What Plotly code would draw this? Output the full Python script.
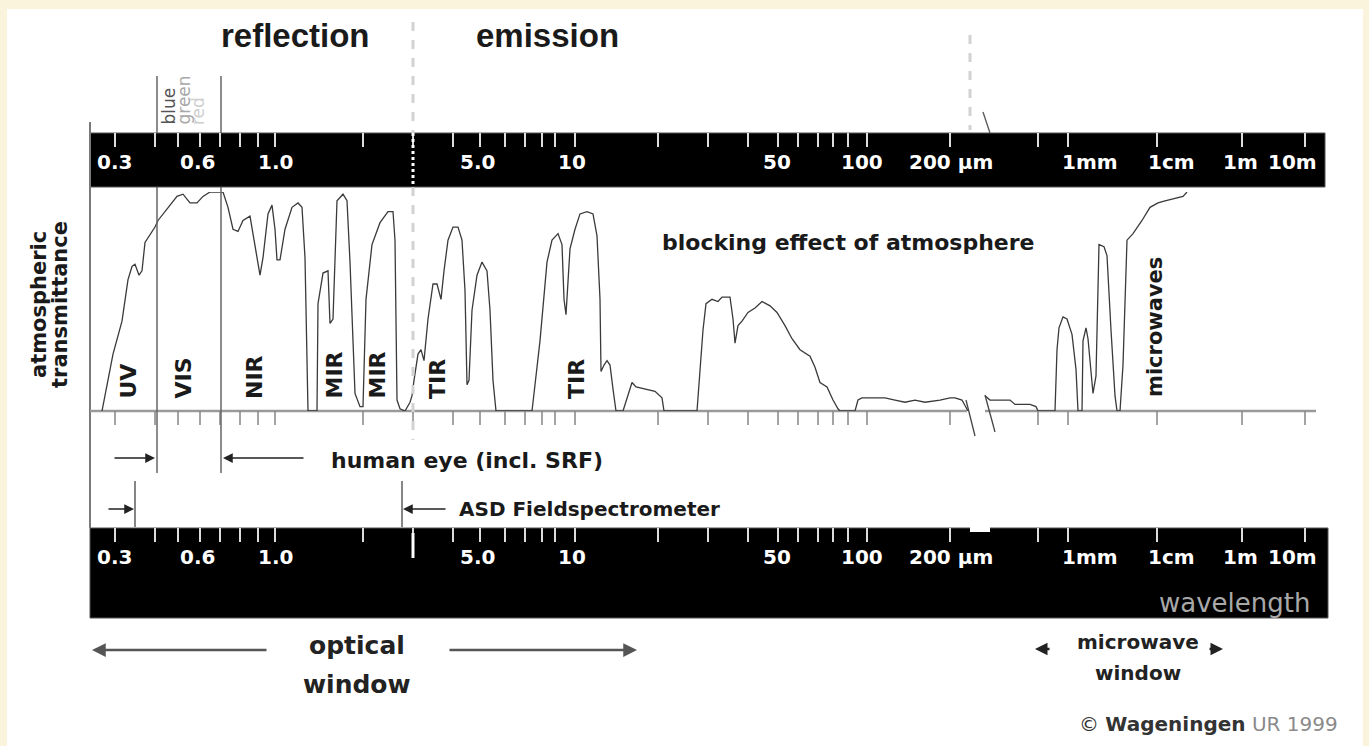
import plotly.graph_objects as go

# ---------------- data ----------------
# positions of tick marks along the (non-linear) wavelength scale, diagram units
tick_pos = [90, 115, 155, 178, 200, 220, 240, 258, 275, 363, 413, 453, 480, 505,
            525, 542, 555, 575, 658, 708, 748, 778, 798, 818, 833, 848, 867, 950,
            1038, 1068, 1157, 1242, 1305]
tick_labels = ["0.3", "0.6", "1.0", "5.0", "10", "50", "100", "200 µm",
               "1mm", "1cm", "1m", "10m"]
tick_label_pos = [114, 197, 275, 477, 572, 777, 862, 951, 1090, 1171, 1240, 1292]

# atmospheric transmittance (%) along the scale
curve_pos = [102, 113, 122, 128, 132, 135, 139, 142, 145, 155, 158, 170, 177, 183, 190,
             197, 203, 210, 223, 228, 233, 238, 243, 250, 255, 260, 263, 268, 272, 275,
             277, 280, 285, 292, 298, 302, 305, 308, 317, 318, 323, 328, 330, 333, 337,
             343, 347, 350, 355, 360, 363, 366, 372, 380, 388, 393, 395, 397, 400, 405,
             410, 412, 414, 418, 421, 424, 428, 433, 437, 441, 444, 448, 453, 458, 462,
             465, 467, 469, 472, 477, 482, 487, 490, 493, 496,
             532, 540, 547, 552, 558, 562, 564, 566, 570, 575, 580, 587, 593, 597, 600,
             601, 604, 607, 610, 613, 616,
             623, 628, 632, 636, 645, 655, 662, 664,
             697, 700, 703, 706, 712, 718, 722, 730, 733, 735, 738, 742, 748, 755, 762,
             770, 777, 785, 792, 800, 810, 815, 820, 827, 833, 838, 840,
             855, 858, 862, 885, 895, 905, 915, 925, 940, 950, 955, 962, 968,
             None,
             985, 990, 1010, 1015, 1030, 1036, 1038,
             1055, 1057, 1059, 1063, 1067, 1072, 1076, 1078, 1082, 1083, 1086, 1088, 1091,
             1093, 1096, 1099, 1104, 1107, 1111, 1115, 1117, 1120, 1123, 1127, 1133, 1142,
             1150, 1158, 1165, 1175, 1183, 1187]
curve_trans = [0, 26, 41, 60, 66, 67, 62, 64, 77, 84, 87, 94, 98, 99, 95,
               95, 98, 100, 100, 93, 83, 82, 87, 89, 75, 62, 70, 90, 94, 83,
               69, 69, 83, 93, 95, 93, 70, 0, 0, 49, 63, 64, 40, 42, 96,
               99, 96, 68, 8, 2, 2, 51, 76, 86, 91, 91, 78, 5, 1, 0,
               4, 7, 14, 26, 28, 23, 42, 58, 58, 51, 64, 78, 84, 84, 78,
               55, 12, 14, 46, 62, 68, 64, 46, 14, 0,
               0, 32, 68, 78, 81, 76, 51, 44, 74, 83, 90, 91, 90, 80, 51,
               18, 21, 23, 21, 10, 0,
               0, 7, 13, 11, 10, 9, 6, 0,
               0, 19, 37, 49, 51, 50, 52, 52, 42, 31, 39, 41, 45, 47, 50,
               48, 45, 39, 33, 28, 25, 20, 13, 11, 5, 1, 0,
               0, 5, 6, 6, 5, 4, 5, 4, 5, 6, 6, 5, 0,
               None,
               7, 5, 5, 3, 3, 2, 0,
               0, 28, 38, 43, 42, 35, 19, 0, 0, 32, 38, 33, 19,
               8, 16, 76, 75, 71, 37, 7, 0, 0, 21, 78, 81, 87,
               93, 95, 96, 97, 98, 100]

region_names = ["UV", "VIS", "NIR", "MIR", "MIR", "TIR", "TIR"]
region_pos = [128, 183, 254, 334, 377, 437, 576]

band_bounds = [157, 221]          # visible band limits (blue .. red)
colour_names = ["blue", "green", "red"]
colour_pos = [168, 183, 198]
colour_cols = ["#555555", "#a8a8a8", "#cfcfcf"]

# ---------------- figure ----------------
W, H = 1369, 746
fig = go.Figure()

BASE = 411      # baseline of transmittance panel (canvas units)
TOP_T = 192     # 100 % transmittance

# curve
fig.add_trace(go.Scatter(x=curve_pos, y=curve_trans, yaxis="y2", mode="lines",
                         line=dict(color="#3a3a3a", width=1.3), hoverinfo="skip",
                         connectgaps=False))

def seg_trace(xs, y0, y1, color, width):
    xx, yy = [], []
    for x in xs:
        xx += [x, x, None]
        yy += [y0, y1, None]
    fig.add_trace(go.Scatter(x=xx, y=yy, mode="lines",
                             line=dict(color=color, width=width), hoverinfo="skip"))

# white ticks in the bars, grey ticks under the baseline
seg_trace(tick_pos[1:], 133, 147, "#dddddd", 2)
seg_trace(tick_pos[1:], 528, 542, "#dddddd", 2)
seg_trace(tick_pos[1:], BASE, 425, "#8c8c8c", 1.6)

shapes = []
# white panel
shapes.append(dict(type="rect", x0=7, x1=1363, y0=9, y1=746, fillcolor="white",
                   line=dict(width=0), layer="below"))
# bars
shapes.append(dict(type="rect", x0=90, x1=1325, y0=133, y1=187, fillcolor="black",
                   line=dict(color="#555", width=1), layer="below"))
shapes.append(dict(type="rect", x0=90, x1=1328, y0=528, y1=618, fillcolor="black",
                   line=dict(color="#555", width=1), layer="below"))
# left axis
shapes.append(dict(type="line", x0=90, x1=90, y0=122, y1=528,
                   line=dict(color="#7a7a7a", width=2), layer="below"))
# baseline with break
shapes.append(dict(type="line", x0=90, x1=967, y0=BASE, y1=BASE,
                   line=dict(color="#9a9a9a", width=2.5), layer="below"))
shapes.append(dict(type="line", x0=985, x1=1316, y0=BASE, y1=BASE,
                   line=dict(color="#9a9a9a", width=2.5), layer="below"))
# break marks
shapes.append(dict(type="line", x0=966, x1=975, y0=400, y1=436,
                   line=dict(color="#444", width=1.3)))
shapes.append(dict(type="line", x0=985, x1=995, y0=395, y1=432,
                   line=dict(color="#444", width=1.3)))
shapes.append(dict(type="rect", x0=970, x1=990, y0=526, y1=532, fillcolor="white",
                   line=dict(width=0)))
# visible band limits
for bx in band_bounds:
    shapes.append(dict(type="line", x0=bx, x1=bx, y0=76, y1=133,
                       line=dict(color="#666", width=1.5)))
    shapes.append(dict(type="line", x0=bx, x1=bx, y0=187, y1=473,
                       line=dict(color="#666", width=1.5)))
# ASD limits
for bx in [135, 402]:
    shapes.append(dict(type="line", x0=bx, x1=bx, y0=481, y1=527,
                       line=dict(color="#444", width=1.3)))
# reflection / emission divider
shapes.append(dict(type="line", x0=413, x1=413, y0=22, y1=133,
                   line=dict(color="#d2d2d2", width=3, dash="dash")))
shapes.append(dict(type="line", x0=413, x1=413, y0=133, y1=187,
                   line=dict(color="white", width=3, dash="dot")))
shapes.append(dict(type="line", x0=413, x1=413, y0=187, y1=440,
                   line=dict(color="#d2d2d2", width=3, dash="dash")))
shapes.append(dict(type="line", x0=413, x1=413, y0=533, y1=558,
                   line=dict(color="white", width=3)))
# second divider
shapes.append(dict(type="line", x0=970, x1=970, y0=35, y1=130,
                   line=dict(color="#d2d2d2", width=3, dash="dash")))
shapes.append(dict(type="line", x0=983, x1=990, y0=112, y1=133,
                   line=dict(color="#555", width=1.3)))

ann = []
F = "DejaVu Sans"

def text(x, y, s, size, color="#222", bold=True, angle=0, xa="center", ya="middle",
         family=F):
    ann.append(dict(x=x, y=y, xref="x", yref="y", text=s, showarrow=False,
                    textangle=angle, xanchor=xa, yanchor=ya,
                    font=dict(family=family, size=size, color=color,
                              weight="bold" if bold else "normal")))

# tick labels in both bars
for p, lab in zip(tick_label_pos, tick_labels):
    text(p, 162, lab, 20, "white")
    text(p, 557, lab, 20, "white")

text(295, 35, "reflection", 33, "#1a1a1a", family="Liberation Sans")
text(547, 35, "emission", 33, "#1a1a1a", family="Liberation Sans")

for p, n, c in zip(colour_pos, colour_names, colour_cols):
    text(p, 127, n, 17, c, bold=False, angle=-90, ya="bottom")

for p, n in zip(region_pos, region_names):
    text(p, 401, n, 22, "#1a1a1a", angle=-90, ya="bottom")
text(1155, 399, "microwaves", 21, "#1a1a1a", angle=-90, ya="bottom")

text(660, 242, "blocking effect of atmosphere", 22, "#1a1a1a", xa="left")
text(39, 305, "atmospheric", 21, "#1a1a1a", angle=-90)
text(60, 305, "transmittance", 21, "#1a1a1a", angle=-90)

text(329, 460, "human eye (incl. SRF)", 22, "#1a1a1a", xa="left")
text(457, 509, "ASD Fieldspectrometer", 20, "#1a1a1a", xa="left")
text(1312, 603, "wavelength", 26, "#a8a8a8", bold=False, xa="right")

text(357, 645, "optical", 25, "#222")
text(357, 684, "window", 25, "#222")
text(1138, 642, "microwave", 20, "#222")
text(1138, 673, "window", 20, "#222")

ann.append(dict(x=1340, y=724, xref="x", yref="y", xanchor="right", showarrow=False,
                text="© <b>Wageningen</b> <span style='color:#8a8a8a'>UR 1999</span>",
                font=dict(family=F, size=20, color="#333")))

def arrow(x_head, x_tail, y, color="#222", width=1.5, size=1.3):
    ann.append(dict(x=x_head, y=y, ax=x_tail, ay=y, xref="x", yref="y",
                    axref="x", ayref="y", text="", showarrow=True, arrowhead=2,
                    arrowsize=size, arrowwidth=width, arrowcolor=color))

arrow(155, 113, 458)
arrow(223, 305, 458)
arrow(134, 107, 509)
arrow(403, 447, 509)
arrow(92, 268, 650, color="#555", width=2.5, size=1.1)
arrow(637, 448, 650, color="#555", width=2.5, size=1.1)
arrow(1035, 1051, 649, color="#222", width=2.5, size=1.0)
arrow(1223, 1208, 649, color="#222", width=2.5, size=1.0)

fig.update_layout(
    width=W, height=H, margin=dict(l=0, r=0, t=0, b=0),
    paper_bgcolor="#fbf4dd", plot_bgcolor="rgba(0,0,0,0)",
    showlegend=False, shapes=shapes, annotations=ann,
    xaxis=dict(range=[0, W], visible=False, fixedrange=True),
    yaxis=dict(range=[H, 0], visible=False, fixedrange=True, domain=[0, 1]),
    yaxis2=dict(range=[0, 100], visible=False, fixedrange=True, anchor="x",
                domain=[1 - BASE / H, 1 - TOP_T / H]),
)

fig.write_html("out.html", config={"displayModeBar": False},
               post_script="document.body.style.margin='0';"
                           "document.body.style.background='#fbf4dd';")
